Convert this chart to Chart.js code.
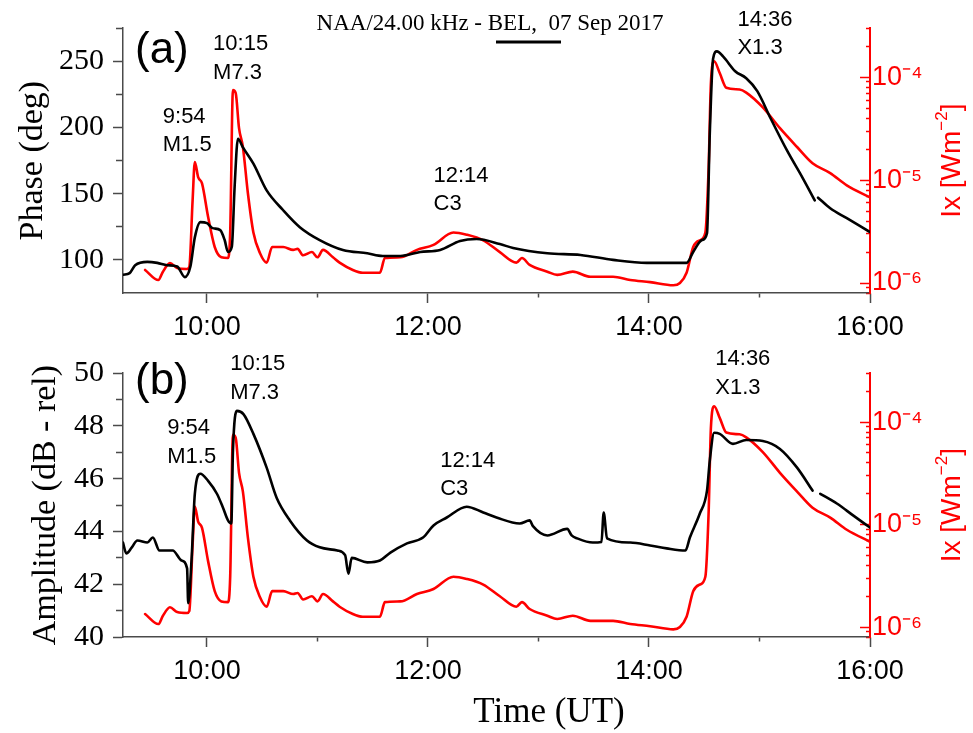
<!doctype html>
<html>

<head>
	<title>NAA/24.00 kHz - BEL, 07 Sep 2017</title>
	<script src="https://cdn.jsdelivr.net/npm/chart.js@4/dist/chart.umd.min.js"></script>
	<style>
		body {
			margin: 0;
			background: #fff;
		}
		canvas {
			position: absolute;
			left: 0;
		}
		#chart-a { top: 0; }
		#chart-b { top: 345px; }
	</style>
</head>

<body>
	<canvas id="chart-a" width="973" height="345"></canvas>
	<canvas id="chart-b" width="973" height="388"></canvas>
	<script>
		// GOES X-ray flux (W m^-2), same curve in both panels
		var xrayTime = [9.44, 9.56, 9.60, 9.665, 9.73, 9.82, 9.84, 9.87, 9.89, 9.92, 9.955, 10.01, 10.07, 10.13, 10.19, 10.21,
			10.235, 10.26, 10.29, 10.325, 10.37, 10.42, 10.48, 10.54, 10.59, 10.69, 10.78, 10.82, 10.87, 10.95, 11.0, 11.05,
			11.14, 11.20, 11.32, 11.41, 11.565, 11.61, 11.75, 11.90, 12.05, 12.23, 12.35, 12.50, 12.65, 12.80, 12.85, 12.92,
			13.08, 13.17, 13.31, 13.47, 13.675, 13.83, 14.01, 14.22, 14.28, 14.34, 14.40, 14.46, 14.51, 14.54, 14.56, 14.59,
			14.64, 14.70, 14.82, 14.88, 15.03, 15.185, 15.34, 15.48, 15.64, 15.79, 16.0];
		var xrayFlux = [1.34e-6, 1.07e-6, 1.28e-6, 1.56e-6, 1.40e-6, 1.37e-6, 1.43e-6, 6.4e-6, 1.5e-5, 1.07e-5, 9.3e-6, 4.4e-6, 2.24e-6, 1.78e-6, 1.75e-6, 3.1e-6,
			7.5e-5, 7.0e-5, 3.2e-5, 2.1e-5, 7.5e-6, 3.1e-6, 1.95e-6, 1.58e-6, 2.24e-6, 2.24e-6, 2.1e-6, 2.15e-6, 1.86e-6, 2.0e-6, 1.78e-6, 2.1e-6,
			1.78e-6, 1.58e-6, 1.34e-6, 1.26e-6, 1.26e-6, 1.75e-6, 1.78e-6, 2.1e-6, 2.35e-6, 3.1e-6, 2.95e-6, 2.6e-6, 2.0e-6, 1.58e-6, 1.75e-6, 1.5e-6,
			1.29e-6, 1.2e-6, 1.29e-6, 1.15e-6, 1.15e-6, 1.07e-6, 1.02e-6, 0.95e-6, 1.0e-6, 1.26e-6, 2.24e-6, 2.6e-6, 3.1e-6, 1.35e-5, 8.7e-5, 1.43e-4,
			1.1e-4, 7.9e-5, 7.6e-5, 7.1e-5, 5.1e-5, 3.2e-5, 2.1e-5, 1.46e-5, 1.17e-5, 8.9e-6, 6.8e-6];

		// NAA 24.00 kHz phase (deg), null = data gap
		var phaseTime = [9.24, 9.30, 9.35, 9.46, 9.55, 9.64, 9.73, 9.80, 9.85, 9.89, 9.94, 10.0, 10.05, 10.12, 10.16, 10.19,
			10.225, 10.25, 10.28, 10.325, 10.42, 10.54, 10.69, 10.84, 11.02, 11.23, 11.45, 11.59, 11.75, 11.93, 12.11, 12.29,
			12.44, 12.65, 12.77, 13.08, 13.38, 13.675, 13.98, 14.34, 14.40, 14.48, 14.525, 14.55, 14.58, 14.615, 14.67, 14.78,
			14.88, 14.98, 15.10, 15.25, 15.39, 15.50, 15.515, 15.53, 15.64, 15.79, 16.0];
		var phaseDeg = [88.75, 90, 96, 98.5, 97.75, 96, 95, 87, 95, 117, 128.5, 127.75, 124, 122.5, 115, 106,
			110, 155, 191.5, 185, 172.75, 152.5, 137.5, 124.75, 115, 107.5, 105, 103, 103, 106, 107.5, 114.25,
			115.75, 112, 109, 105, 103.75, 100, 97.75, 97.75, 106, 115, 120.25, 195, 252, 257.5, 253.75, 242.5,
			237.25, 227.5, 207, 182.5, 162, 145, null, 147, 139, 131.5, 121];

		// NAA 24.00 kHz amplitude (dB - rel)
		var ampTime = [9.24, 9.27, 9.32, 9.37, 9.46, 9.51, 9.57, 9.69, 9.77, 9.82, 9.83, 9.86, 9.89, 9.94, 10.01, 10.09,
			10.145, 10.19, 10.22, 10.235, 10.27, 10.33, 10.42, 10.54, 10.63, 10.75, 10.905, 11.02, 11.18, 11.25, 11.28, 11.31,
			11.45, 11.565, 11.66, 11.81, 11.955, 12.05, 12.17, 12.35, 12.50, 12.62, 12.83, 12.92, 12.95, 13.08, 13.26, 13.30,
			13.35, 13.49, 13.57, 13.59, 13.62, 13.83, 14.01, 14.16, 14.33, 14.37, 14.46, 14.525, 14.55, 14.59, 14.64, 14.76,
			14.88, 15.03, 15.185, 15.34, 15.48, 15.515, 15.55, 15.70, 15.85, 16.0];
		var ampDb = [43.58, 43.17, 43.4, 43.66, 43.58, 43.77, 43.28, 43.28, 42.9, 42.6, 41.28, 42.9, 45.43, 46.19, 45.92, 45.43,
			44.9, 44.42, 44.3, 47.06, 48.57, 48.45, 47.7, 46.42, 45.28, 44.42, 43.66, 43.4, 43.28, 43.1, 42.4, 43.0,
			42.83, 42.9, 43.2, 43.55, 43.77, 44.23, 44.53, 44.94, 44.72, 44.53, 44.3, 44.42, 44.2, 43.85, 44.1, 43.85,
			43.74, 43.58, 43.6, 44.72, 43.74, 43.58, 43.47, 43.36, 43.28, 43.77, 44.68, 45.55, 46.68, 47.74, 47.7, 47.32,
			47.47, 47.43, 47.13, 46.42, 45.55, null, 45.43, 45.06, 44.6, 44.15];

		// flares
		var flareTime = ['9:54', '10:15', '12:14', '14:36'];
		var flareClass = ['M1.5', 'M7.3', 'C3', 'X1.3'];

		// axes
		var hourTicks = [10, 11, 12, 13, 14, 15, 16];
		var phaseTicks = [100, 125, 150, 175, 200, 225, 250, 275];
		var ampTicks = [40, 41, 42, 43, 44, 45, 46, 47, 48, 49, 50];

		var red = '#ff0000';
		var axisGrey = '#4a4a4a';
		var sans = '"Liberation Sans", Arial, sans-serif';
		var serif = '"Liberation Serif", "Times New Roman", serif';

		Chart.defaults.font.family = sans;

		function points(xs, ys) {
			return xs.map(function(t, i) {
				return {x: t, y: ys[i]};
			});
		}

		function logTicks(min, max) {
			var out = [];
			for (var e = Math.floor(Math.log10(min)); e <= Math.ceil(Math.log10(max)); e++) {
				for (var k = 1; k < 10; k++) {
					var v = k * Math.pow(10, e);
					if (v >= min * 0.999 && v <= max * 1.001) {
						out.push({value: v});
					}
				}
			}
			return out;
		}

		function isDecade(v) {
			var e = Math.log10(v);
			return Math.abs(e - Math.round(e)) < 1e-6;
		}

		function sup(n) {
			var map = {'-': '\u207B', '0': '\u2070', '1': '\u00B9', '2': '\u00B2', '3': '\u00B3', '4': '\u2074',
				'5': '\u2075', '6': '\u2076', '7': '\u2077', '8': '\u2078', '9': '\u2079'};
			return String(n).split('').map(function(c) { return map[c]; }).join('');
		}

		// text that Chart.js does not place itself: panel letter, flare notes, rotated Ix title, header
		var panelText = {
			id: 'panelText',
			afterDraw: function(chart, args, opts) {
				var ctx = chart.ctx;
				var area = chart.chartArea;
				var xs = chart.scales.x;
				var ys = chart.scales.y;
				ctx.save();
				ctx.fillStyle = '#000';
				ctx.textBaseline = 'middle';
				ctx.textAlign = 'left';

				ctx.font = '44px ' + sans;
				ctx.fillText(opts.letter, area.left + 12, area.top + opts.letterDy);

				ctx.font = '22px ' + sans;
				opts.flareAt.forEach(function(p, i) {
					var px = xs.getPixelForValue(p[0]);
					var py = ys.getPixelForValue(p[1]);
					ctx.fillText(flareTime[i], px, py);
					ctx.fillText(flareClass[i], px, py + 28.5);
				});

				// right axis title, reads bottom to top
				var size = 28;
				var cy = (area.top + area.bottom) / 2;
				ctx.save();
				ctx.translate(950, cy);
				ctx.rotate(-Math.PI / 2);
				ctx.fillStyle = red;
				ctx.font = size + 'px ' + sans;
				var a = 'Ix [Wm', b = '\u22122', c = ']';
				var wa = ctx.measureText(a).width, wc = ctx.measureText(c).width;
				ctx.font = Math.round(size * 0.62) + 'px ' + sans;
				var wb = ctx.measureText(b).width;
				var x0 = -(wa + wb + wc) / 2;
				ctx.font = size + 'px ' + sans;
				ctx.fillText(a, x0, 2);
				ctx.fillText(c, x0 + wa + wb, 2);
				ctx.font = Math.round(size * 0.62) + 'px ' + sans;
				ctx.fillText(b, x0 + wa, -8);
				ctx.restore();

				if (opts.header) {
					ctx.textAlign = 'center';
					ctx.font = '23px ' + serif;
					ctx.fillText(opts.header, 490, 24);
					ctx.strokeStyle = '#000';
					ctx.lineWidth = 3;
					ctx.beginPath();
					ctx.moveTo(496, 42);
					ctx.lineTo(561, 42);
					ctx.stroke();
				}
				if (opts.xTitle) {
					ctx.textAlign = 'center';
					ctx.font = '35px ' + serif;
					ctx.fillText(opts.xTitle, 549, chart.height - 20);
				}
				ctx.restore();
			}
		};

		function makePanel(canvasId, cfg) {
			return new Chart(document.getElementById(canvasId), {
				type: 'line',
				data: {
					datasets: [{
						label: cfg.leftTitle,
						data: cfg.blackData,
						yAxisID: 'y',
						borderColor: '#000',
						borderWidth: 2.6
					}, {
						label: 'Ix',
						data: points(xrayTime, xrayFlux),
						yAxisID: 'yr',
						borderColor: red,
						borderWidth: 2.6
					}]
				},
				plugins: [panelText],
				options: {
					responsive: false,
					animation: false,
					spanGaps: false,
					layout: {padding: {top: 27, left: 0, right: 0, bottom: 0}},
					elements: {
						point: {radius: 0},
						line: {cubicInterpolationMode: 'monotone', borderJoinStyle: 'round', borderCapStyle: 'round'}
					},
					plugins: {
						legend: {display: false},
						tooltip: {enabled: false},
						panelText: cfg.text
					},
					scales: {
						x: {
							type: 'linear',
							min: 9.24,
							max: 16,
							afterBuildTicks: function(scale) {
								scale.ticks = hourTicks.map(function(h) { return {value: h}; });
							},
							afterFit: function(scale) { scale.height = cfg.xHeight; },
							border: {color: axisGrey, width: 1.5},
							grid: {
								drawOnChartArea: false,
								tickLength: 10,
								tickColor: axisGrey,
								tickWidth: 1.5,
								tickBorderDash: function(c) {
									return c.tick && c.tick.value % 2 === 0 ? [] : [4, 100];
								}
							},
							ticks: {
								autoSkip: false,
								maxRotation: 0,
								color: '#000',
								padding: 8,
								font: {family: sans, size: 27},
								callback: function(v) { return v % 2 === 0 ? v + ':00' : ''; }
							}
						},
						y: {
							type: 'linear',
							position: 'left',
							min: cfg.leftMin,
							max: cfg.leftMax,
							afterBuildTicks: function(scale) {
								scale.ticks = cfg.leftTicks.map(function(v) { return {value: v}; });
							},
							afterFit: function(scale) { scale.width = 123; },
							border: {color: axisGrey, width: 1.5},
							grid: {
								drawOnChartArea: false,
								tickLength: 10,
								tickColor: axisGrey,
								tickWidth: 1.5,
								tickBorderDash: function(c) {
									return c.tick && cfg.leftLabel(c.tick.value) ? [] : [0, 3, 7, 100];
								}
							},
							ticks: {
								autoSkip: false,
								color: '#000',
								padding: 9,
								font: {family: serif, size: 30},
								callback: function(v) { return cfg.leftLabel(v) ? String(v) : ''; }
							},
							title: {
								display: true,
								text: cfg.leftTitle,
								color: '#000',
								font: {family: serif, size: 34, lineHeight: 1},
								padding: {top: cfg.titlePad, bottom: 0}
							}
						},
						yr: {
							type: 'logarithmic',
							position: 'right',
							min: 8e-7,
							max: 3e-4,
							afterBuildTicks: function(scale) {
								scale.ticks = logTicks(8e-7, 3e-4);
							},
							afterFit: function(scale) { scale.width = 103; },
							border: {color: red, width: 2},
							grid: {
								drawOnChartArea: false,
								tickLength: -10,
								tickColor: red,
								tickWidth: 1.5,
								tickBorderDash: function(c) {
									return c.tick && isDecade(c.tick.value) ? [] : [5, 100];
								}
							},
							ticks: {
								autoSkip: false,
								color: red,
								padding: 12,
								font: {family: sans, size: 27},
								callback: function(v) {
									return isDecade(v) ? '10' + sup(Math.round(Math.log10(v))) : '';
								}
							}
						}
					}
				}
			});
		}

		window.onload = function() {
			window.chartA = makePanel('chart-a', {
				blackData: points(phaseTime, phaseDeg),
				leftTitle: 'Phase (deg)',
				leftMin: 75,
				leftMax: 275,
				leftTicks: phaseTicks,
				leftLabel: function(v) { return v % 50 === 0; },
				titlePad: 16,
				xHeight: 52,
				text: {
					letter: '(a)',
					letterDy: 23,
					header: 'NAA/24.00 kHz - BEL,  07 Sep 2017',
					flareAt: [[9.60, 208], [10.055, 262.75], [12.05, 163.75], [14.80, 281.5]]
				}
			});
			window.chartB = makePanel('chart-b', {
				blackData: points(ampTime, ampDb),
				leftTitle: 'Amplitude (dB - rel)',
				leftMin: 40,
				leftMax: 50,
				leftTicks: ampTicks,
				leftLabel: function(v) { return v % 2 === 0; },
				titlePad: 29,
				xHeight: 96,
				text: {
					letter: '(b)',
					letterDy: 9,
					xTitle: 'Time (UT)',
					flareAt: [[9.64, 47.92], [10.21, 50.34], [12.11, 46.68], [14.60, 50.53]]
				}
			});
		};
	</script>
</body>

</html>
